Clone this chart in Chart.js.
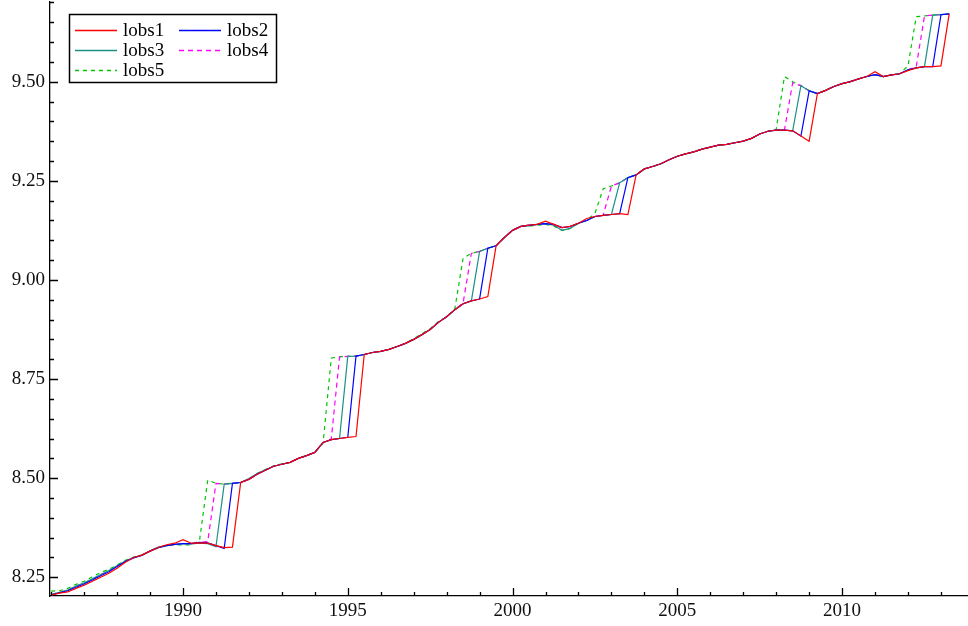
<!DOCTYPE html>
<html><head><meta charset="utf-8">
<script src="https://cdn.jsdelivr.net/npm/chart.js@4.4.0/dist/chart.umd.min.js"></script>
<style>html,body{margin:0;padding:0;background:#fff;}#wrap{width:968px;height:626px;position:relative;}</style>
</head><body><div id="wrap"><canvas id="c"></canvas></div>
<script>
const quarters = [
1986,1986.25,1986.5,1986.75, 1987,1987.25,1987.5,1987.75, 1988,1988.25,1988.5,1988.75,
1989,1989.25,1989.5,1989.75, 1990,1990.25,1990.5,1990.75, 1991,1991.25,1991.5,1991.75,
1992,1992.25,1992.5,1992.75, 1993,1993.25,1993.5,1993.75, 1994,1994.25,1994.5,1994.75,
1995,1995.25,1995.5,1995.75, 1996,1996.25,1996.5,1996.75, 1997,1997.25,1997.5,1997.75,
1998,1998.25,1998.5,1998.75, 1999,1999.25,1999.5,1999.75, 2000,2000.25,2000.5,2000.75,
2001,2001.25,2001.5,2001.75, 2002,2002.25,2002.5,2002.75, 2003,2003.25,2003.5,2003.75,
2004,2004.25,2004.5,2004.75, 2005,2005.25,2005.5,2005.75, 2006,2006.25,2006.5,2006.75,
2007,2007.25,2007.5,2007.75, 2008,2008.25,2008.5,2008.75, 2009,2009.25,2009.5,2009.75,
2010,2010.25,2010.5,2010.75, 2011,2011.25,2011.5,2011.75, 2012,2012.25,2012.5,2012.75,
2013,2013.25];

const lobs1 = [
8.205,8.210,8.213,8.222, 8.230,8.240,8.250,8.260, 8.273,8.288,8.300,8.306,
8.316,8.325,8.332,8.336, 8.345,8.336,8.337,8.336, 8.330,8.325,8.326,8.489,
8.497,8.510,8.520,8.530, 8.535,8.540,8.550,8.557, 8.565,8.590,8.597,8.600,
8.603,8.605,8.812,8.817, 8.820,8.825,8.832,8.840, 8.850,8.862,8.875,8.893,
8.907,8.925,8.940,8.947, 8.952,8.958,9.086,9.107, 9.125,9.135,9.138,9.140,
9.148,9.140,9.132,9.135, 9.143,9.155,9.160,9.163, 9.165,9.167,9.165,9.265,
9.280,9.286,9.293,9.303, 9.312,9.318,9.323,9.330, 9.335,9.340,9.342,9.346,
9.350,9.357,9.368,9.375, 9.378,9.378,9.376,9.363, 9.350,9.470,9.478,9.488,
9.495,9.500,9.507,9.513, 9.525,9.513,9.517,9.520, 9.528,9.535,9.538,9.538,
9.540,9.671];

const lobs2 = [
8.205,8.211,8.216,8.225, 8.233,8.243,8.254,8.264, 8.277,8.290,8.299,8.305,
8.316,8.325,8.330,8.333, 8.335,8.335,8.338,8.337, 8.330,8.323,8.487,8.489,
8.497,8.510,8.520,8.530, 8.535,8.540,8.550,8.557, 8.565,8.590,8.597,8.600,
8.603,8.808,8.812,8.817, 8.820,8.825,8.832,8.840, 8.850,8.862,8.875,8.893,
8.907,8.925,8.940,8.947, 8.952,9.080,9.086,9.107, 9.125,9.135,9.138,9.140,
9.142,9.140,9.132,9.135, 9.143,9.150,9.160,9.163, 9.165,9.167,9.258,9.265,
9.280,9.286,9.293,9.303, 9.312,9.318,9.323,9.330, 9.335,9.340,9.342,9.346,
9.350,9.357,9.368,9.375, 9.378,9.378,9.376,9.363, 9.477,9.470,9.478,9.488,
9.495,9.500,9.507,9.513, 9.518,9.513,9.517,9.520, 9.530,9.535,9.538,9.538,
9.669,9.671];

const lobs3 = [
8.207,8.212,8.218,8.228, 8.236,8.246,8.257,8.267, 8.279,8.291,8.300,8.306,
8.317,8.326,8.330,8.333, 8.334,8.334,8.336,8.335, 8.327,8.485,8.487,8.489,
8.499,8.512,8.521,8.530, 8.535,8.540,8.550,8.557, 8.565,8.590,8.597,8.600,
8.807,8.808,8.812,8.817, 8.820,8.825,8.832,8.840, 8.850,8.862,8.875,8.893,
8.907,8.925,8.940,8.947, 9.072,9.080,9.086,9.107, 9.125,9.135,9.136,9.140,
9.142,9.138,9.125,9.130, 9.143,9.150,9.160,9.163, 9.165,9.245,9.258,9.265,
9.280,9.286,9.293,9.303, 9.312,9.318,9.323,9.330, 9.335,9.340,9.342,9.346,
9.350,9.357,9.368,9.375, 9.378,9.378,9.376,9.490, 9.477,9.470,9.478,9.488,
9.495,9.500,9.507,9.513, 9.518,9.513,9.517,9.520, 9.530,9.535,9.538,9.668,
9.669,9.671];

const lobs4 = [
8.206,8.212,8.217,8.227, 8.235,8.245,8.256,8.266, 8.278,8.290,8.300,8.306,
8.316,8.325,8.330,8.333, 8.335,8.335,8.338,8.340, 8.487,8.485,8.487,8.489,
8.497,8.510,8.520,8.530, 8.535,8.540,8.550,8.557, 8.565,8.590,8.599,8.806,
8.807,8.808,8.812,8.817, 8.820,8.825,8.832,8.840, 8.850,8.862,8.875,8.893,
8.907,8.925,8.942,9.067, 9.072,9.080,9.086,9.107, 9.125,9.135,9.138,9.140,
9.142,9.140,9.132,9.135, 9.143,9.150,9.160,9.163, 9.237,9.245,9.258,9.265,
9.280,9.286,9.293,9.303, 9.312,9.318,9.323,9.330, 9.335,9.340,9.342,9.346,
9.350,9.357,9.368,9.375, 9.378,9.378,9.497,9.490, 9.477,9.470,9.478,9.488,
9.495,9.500,9.507,9.513, 9.518,9.513,9.517,9.520, 9.530,9.538,9.666,9.668,
9.669,9.671];

const lobs5 = [
8.215,8.216,8.222,8.232, 8.240,8.251,8.262,8.270, 8.281,8.293,8.301,8.306,
8.316,8.324,8.330,8.332, 8.332,8.332,8.342,8.495, 8.487,8.485,8.487,8.489,
8.497,8.512,8.522,8.531, 8.536,8.540,8.550,8.557, 8.565,8.588,8.803,8.806,
8.807,8.808,8.812,8.817, 8.820,8.825,8.832,8.840, 8.852,8.864,8.877,8.895,
8.907,8.928,9.055,9.067, 9.072,9.080,9.086,9.107, 9.125,9.135,9.136,9.138,
9.140,9.136,9.125,9.130, 9.143,9.150,9.168,9.230, 9.237,9.245,9.258,9.265,
9.280,9.286,9.293,9.303, 9.312,9.318,9.323,9.330, 9.335,9.340,9.342,9.346,
9.350,9.357,9.368,9.375, 9.380,9.513,9.500,9.490, 9.477,9.470,9.478,9.488,
9.495,9.500,9.507,9.513, 9.518,9.513,9.517,9.520, 9.540,9.664,9.666,9.668,
9.669,9.671];

const seriesNames = ['lobs1','lobs2','lobs3','lobs4','lobs5'];
const seriesValues = [lobs1, lobs2, lobs3, lobs4, lobs5];
const seriesColors = ['#ff0000','#0000ff','#1a9088','#ff00ff','#00c400'];
const seriesDash = [[], [], [], [5,4], [4,4]];
const xTickLabels = [1990, 1995, 2000, 2005, 2010];
const yTickLabels = [8.25, 8.50, 8.75, 9.00, 9.25, 9.50];

const FONT_FAMILY = '"Liberation Serif", "Times New Roman", serif';
const FONT_SIZE = 19;

const datasets = seriesNames.map((name, i) => ({
  label: name,
  data: quarters.map((q, j) => ({x: q, y: seriesValues[i][j]})),
  borderColor: seriesColors[i],
  backgroundColor: seriesColors[i],
  borderDash: seriesDash[i],
  borderWidth: 1.2,
  pointRadius: 0,
  tension: 0,
  fill: false
}));

const tickPlugin = {
  id: 'inwardTicks',
  afterDraw(chart) {
    const ctx = chart.ctx, a = chart.chartArea;
    const xs = chart.scales.x, ys = chart.scales.y;
    ctx.save();
    ctx.strokeStyle = '#000';
    ctx.lineWidth = 1.3;
    ctx.beginPath();
    for (let yr = Math.ceil(xs.min); yr <= xs.max; yr++) {
      const px = Math.round(xs.getPixelForValue(yr)) + 0.5;
      const len = (yr % 5 === 0) ? 8 : 4;
      ctx.moveTo(px, a.bottom);
      ctx.lineTo(px, a.bottom - len);
    }
    for (let k = Math.ceil(ys.min * 20); k <= ys.max * 20; k++) {
      const v = k / 20;
      const py = Math.round(ys.getPixelForValue(v)) + 0.5;
      const len = (k % 5 === 0) ? 8 : 4;
      ctx.moveTo(a.left, py);
      ctx.lineTo(a.left + len, py);
    }
    ctx.stroke();
    ctx.restore();
  }
};

const legendPlugin = {
  id: 'boxLegend',
  afterDatasetsDraw(chart) {
    const ctx = chart.ctx, a = chart.chartArea;
    const bx = a.left + 19, by = 14, bw = 207, bh = 68;
    ctx.save();
    ctx.fillStyle = '#fff';
    ctx.fillRect(bx, by, bw, bh);
    ctx.strokeStyle = '#000';
    ctx.lineWidth = 1.5;
    ctx.strokeRect(bx + 0.5, by + 0.5, bw, bh);
    ctx.font = FONT_SIZE + 'px ' + FONT_FAMILY;
    ctx.textBaseline = 'middle';
    chart.data.datasets.forEach((ds, i) => {
      const col = i % 2, row = Math.floor(i / 2);
      const lx = bx + 6 + col * 104, ly = by + 16 + row * 20;
      ctx.beginPath();
      ctx.setLineDash(ds.borderDash || []);
      ctx.strokeStyle = ds.borderColor;
      ctx.lineWidth = 1.5;
      ctx.moveTo(lx, ly + 0.5);
      ctx.lineTo(lx + 42, ly + 0.5);
      ctx.stroke();
      ctx.setLineDash([]);
      ctx.fillStyle = '#000';
      ctx.fillText(ds.label, lx + 48, ly + 1);
    });
    ctx.restore();
  }
};

new Chart(document.getElementById('c'), {
  type: 'line',
  data: { datasets },
  options: {
    responsive: true,
    maintainAspectRatio: false,
    animation: false,
    layout: { padding: { top: 2, right: 1, left: 0, bottom: 0 } },
    plugins: { legend: { display: false }, tooltip: { enabled: false } },
    scales: {
      x: {
        type: 'linear',
        min: 1985.964,
        max: 2013.79,
        afterFit: s => { s.height = 30; s.paddingLeft = 0; s.paddingRight = 0; },
        afterBuildTicks: s => { s.ticks = xTickLabels.map(v => ({ value: v })); },
        grid: { display: false, drawTicks: false },
        border: { display: true, color: '#000', width: 1.3 },
        ticks: {
          padding: 4,
          color: '#111',
          font: { family: FONT_FAMILY, size: FONT_SIZE },
          maxRotation: 0,
          autoSkip: false,
          callback: v => String(v)
        }
      },
      y: {
        type: 'linear',
        min: 8.2028,
        max: 9.701,
        afterFit: s => { s.width = 50; s.paddingTop = 0; s.paddingBottom = 0; },
        afterBuildTicks: s => { s.ticks = yTickLabels.map(v => ({ value: v })); },
        grid: { display: false, drawTicks: false },
        border: { display: true, color: '#000', width: 1.3 },
        ticks: {
          padding: 5,
          color: '#111',
          font: { family: FONT_FAMILY, size: FONT_SIZE },
          autoSkip: false,
          callback: v => Number(v).toFixed(2)
        }
      }
    }
  },
  plugins: [tickPlugin, legendPlugin]
});
</script>
</body></html>
